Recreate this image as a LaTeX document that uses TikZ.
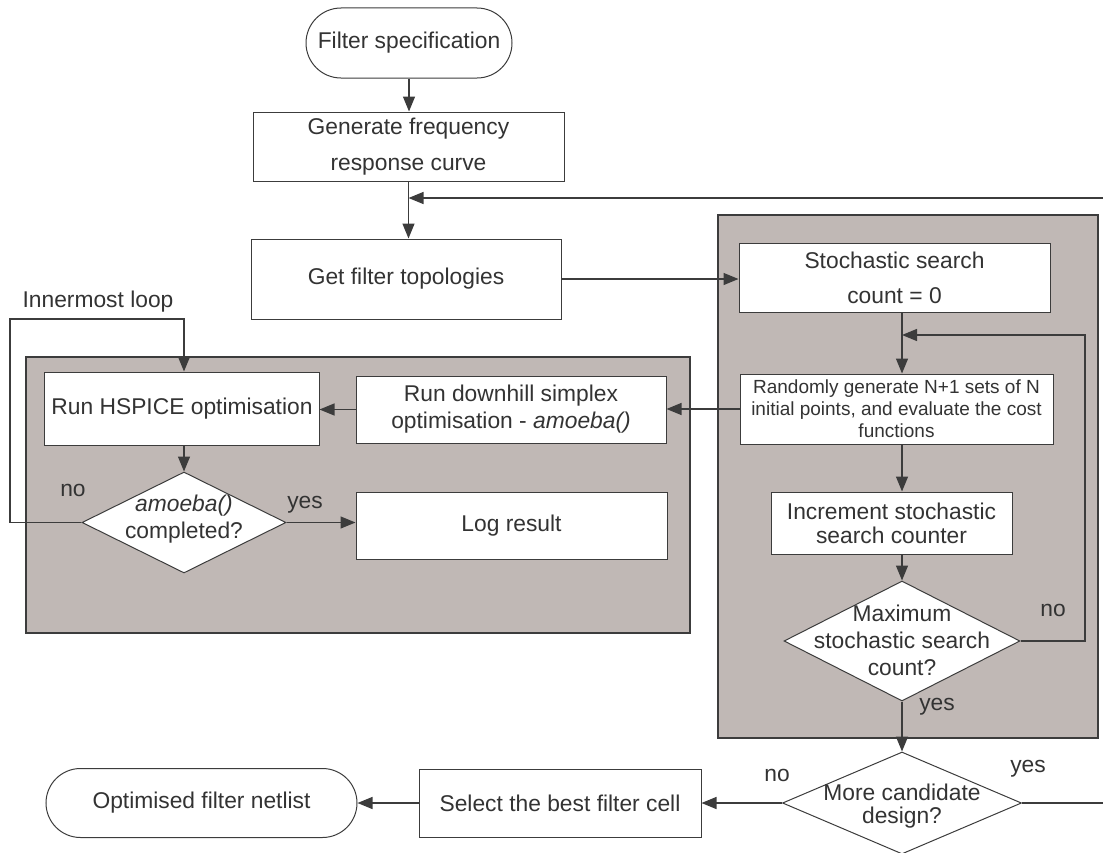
\documentclass[tikz,border=0pt]{standalone}
\usepackage{fontspec}
\setmainfont{Liberation Sans}
\usetikzlibrary{shapes.geometric,shapes.misc,arrows.meta,calc}
\definecolor{panel}{RGB}{192,184,181}
\definecolor{ink}{RGB}{51,51,51}
\definecolor{edge}{RGB}{60,60,60}
\newcommand{\fsz}[2]{\fontsize{#1bp}{#2bp}\selectfont}
\begin{document}
\begin{tikzpicture}[x=1bp,y=-1bp,
  every node/.style={text=ink},
  box/.style={draw=edge, fill=white, line width=1bp, inner sep=0pt, align=center, font=\fsz{22.8}{27}},
  term/.style={box, rounded rectangle},
  dia/.style={draw=edge, fill=white, line width=1bp, diamond, inner sep=0pt},
  dtext/.style={align=center, font=\fsz{22.8}{27}, inner sep=0pt},
  lab/.style={font=\fsz{22.8}{27}, inner sep=0pt},
  conn/.style={draw=edge, line width=1.3bp},
  arr/.style={conn, -{Triangle[length=15bp,width=12bp]}},
  panelbox/.style={draw=edge, fill=panel, line width=1.2bp}
]
\useasboundingbox (0,0) rectangle (1103,853);

% panels
\draw[panelbox] (26,357) rectangle (690,633);
\draw[panelbox] (718,215) rectangle (1098,738);

% nodes
\node[term, minimum width=206bp, minimum height=70bp] (spec) at (409,43) {Filter specification};
\node[box, minimum width=311bp, minimum height=69bp, font=\fsz{22.8}{36}] (gen) at (408.5,146.5) {Generate frequency\\response curve};
\node[box, minimum width=310bp, minimum height=80bp] (topo) at (406,279) {Get filter topologies};
\node[box, minimum width=311bp, minimum height=69bp, font=\fsz{22.8}{35}] (stoch) at (894.5,277.5) {Stochastic search\\count = 0};
\node[box, minimum width=313bp, minimum height=70bp, font=\fsz{19}{22}] (rand) at (896.5,409) {Randomly generate N+1 sets of N\\initial points, and evaluate the cost\\functions};
\node[box, minimum width=241bp, minimum height=62bp, font=\fsz{22.8}{24}] (inc) at (891.5,523) {Increment stochastic\\search counter};
\node[dia, minimum width=236bp, minimum height=120bp] (maxd) at (902,641) {};
\node[dtext] (maxdt) at (902,640) {Maximum\\stochastic search\\count?};
\node[dia, minimum width=239bp, minimum height=102bp] (cand) at (902,803) {};
\node[dtext, font=\fsz{22.8}{23}] (candt) at (902,806) {More candidate\\design?};
\node[box, minimum width=282bp, minimum height=68bp] (sel) at (560,803) {Select the best filter cell};
\node[term, minimum width=311bp, minimum height=69bp] (out) at (201.5,803) {Optimised filter netlist};
\node[box, minimum width=274bp, minimum height=73bp] (hsp) at (182,408.5) {Run HSPICE optimisation};
\node[box, minimum width=310bp, minimum height=67bp] (down) at (511,409.5) {Run downhill simplex\\optimisation - \textit{amoeba()}};
\node[dia, minimum width=204bp, minimum height=101bp] (amd) at (184,522.5) {};
\node[dtext] (amdt) at (184,519) {\textit{amoeba()}\\completed?};
\node[box, minimum width=311bp, minimum height=67bp] (log) at (511.5,525.5) {Log result};

% connectors
\draw[arr] (spec.south) -- (spec.south |- gen.north);
\draw[arr] (gen.south) -- (gen.south |- topo.north);
\coordinate (fbR) at (1103,198);
\draw[arr] (fbR) -- (gen.south |- fbR);
\draw[arr] (topo.east) -- (topo.east -| stoch.west);
\draw[arr] (stoch.south -| maxd.north) -- (maxd.north |- rand.north);
\coordinate (lpR) at (1085,335);
\draw[arr] (maxd.east) -| (lpR) -- (maxd.north |- lpR);
\draw[arr] (maxd.north |- rand.south) -- (maxd.north |- inc.north);
\draw[arr] (maxd.north |- inc.south) -- (maxd.north);
\draw[arr] (maxd.south) -- (cand.north);
\draw[arr] (cand.west) -- (cand.west -| sel.east);
\coordinate (yesR) at (1103,803);
\draw[conn] (cand.east) -- (yesR);
\draw[arr] (sel.west) -- (sel.west -| out.east);
\draw[arr] (rand.west) -- (rand.west -| down.east);
\draw[arr] (down.west) -- (down.west -| hsp.east);
\draw[arr] (amd.north |- hsp.south) -- (amd.north);
\draw[arr] (amd.east) -- (amd.east -| log.west);
\coordinate (lpL) at (10,319);
\draw[arr] (amd.west) -| (lpL) -- (lpL -| amd.north) -- (amd.north |- hsp.north);

% labels
\node[lab] (noA) at (73,490) {no};
\node[lab] (yesA) at (305,505) {yes};
\node[lab] (inner) at (98,302) {Innermost loop};
\node[lab] (noB) at (1053,610) {no};
\node[lab] (yesB) at (937,707) {yes};
\node[lab] (noC) at (777,775) {no};
\node[lab] (yesC) at (1028,769) {yes};
\end{tikzpicture}
\end{document}
